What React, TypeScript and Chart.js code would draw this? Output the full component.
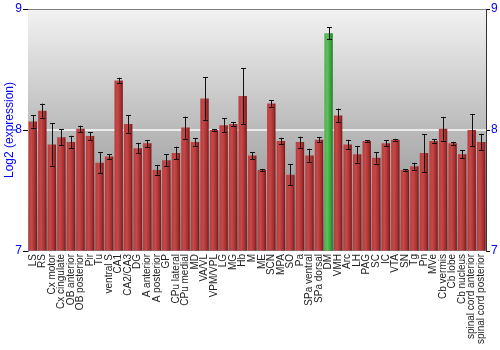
import React, { useEffect, useRef } from "react";
import { Chart, registerables } from "chart.js";

Chart.register(...registerables);

const categories: string[] = [
  "LS", "RS", "Cx motor", "Cx cingulate", "OB anterior", "OB posterior", "Pir", "Tu",
  "ventral S", "CA1", "CA2/CA3", "DG", "A anterior", "A posterior", "GP", "CPu lateral",
  "CPu medial", "MD", "VA/VL", "VPM/VPL", "LG", "MG", "Hb", "M", "ME", "SCN", "MPA", "SO",
  "Pa", "SPa ventral", "SPa dorsal", "DM", "VMH", "Arc", "LH", "PAG", "SC", "IC", "VTA",
  "SN", "Tg", "Pn", "MVe", "Cb vermis", "Cb lobe", "Cb nucleus", "spinal cord anterior",
  "spinal cord posterior",
];

const expression: number[] = [
  8.07, 8.16, 7.88, 7.94, 7.9, 8.01, 7.95, 7.73, 7.78, 8.41, 8.05, 7.85, 7.89, 7.67, 7.75, 7.81,
  8.02, 7.9, 8.26, 8.0, 8.04, 8.05, 8.28, 7.79, 7.67, 8.22, 7.91, 7.63, 7.9, 7.79, 7.92, 8.8,
  8.12, 7.88, 7.8, 7.91, 7.77, 7.89, 7.92, 7.67, 7.7, 7.81, 7.91, 8.01, 7.89, 7.8, 8.0, 7.9,
];

const errors: number[] = [
  0.05, 0.058, 0.174, 0.065, 0.052, 0.026, 0.032, 0.087, 0.019, 0.022, 0.072, 0.044, 0.028, 0.039,
  0.05, 0.052, 0.091, 0.035, 0.175, 0.006, 0.058, 0.017, 0.23, 0.028, 0.008, 0.028, 0.026, 0.088,
  0.046, 0.055, 0.023, 0.051, 0.057, 0.039, 0.069, 0.006, 0.047, 0.025, 0.008, 0.006, 0.03, 0.155,
  0.014, 0.099, 0.012, 0.033, 0.133, 0.069,
];

const highlighted: string[] = ["DM"];
const yTicks: number[] = [7, 8, 9];

const BAR_PCT = 0.88;

const bgPlugin = {
  id: "bgGradient",
  beforeDatasetsDraw(chart: any) {
    const { ctx, chartArea } = chart;
    if (!chartArea) return;
    const g = ctx.createLinearGradient(0, chartArea.top, 0, chartArea.bottom);
    g.addColorStop(0, "#f2f2f2");
    g.addColorStop(1, "#828282");
    ctx.save();
    ctx.fillStyle = g;
    ctx.fillRect(chartArea.left, chartArea.top, chartArea.right - chartArea.left, chartArea.bottom - chartArea.top);
    // white gridline at 8
    const ys = chart.scales.y;
    ctx.strokeStyle = "rgba(255,255,255,0.95)";
    ctx.lineWidth = 1.5;
    ctx.beginPath();
    const y8 = ys.getPixelForValue(8);
    ctx.moveTo(chartArea.left, y8);
    ctx.lineTo(chartArea.right, y8);
    ctx.stroke();
    ctx.restore();
  },
  afterDraw(chart: any) {
    const { ctx, chartArea } = chart;
    ctx.save();
    ctx.strokeStyle = "#808080";
    ctx.lineWidth = 1;
    ctx.beginPath();
    ctx.moveTo(chartArea.left, chartArea.top + 0.5);
    ctx.lineTo(chartArea.right, chartArea.top + 0.5);
    ctx.stroke();
    ctx.restore();
  },
};

const errorPlugin = {
  id: "errorBars",
  afterDatasetsDraw(chart: any) {
    const { ctx } = chart;
    const meta = chart.getDatasetMeta(0);
    const ys = chart.scales.y;
    ctx.save();
    ctx.strokeStyle = "#111";
    ctx.lineWidth = 1;
    meta.data.forEach((bar: any, i: number) => {
      const x = Math.round(bar.x) + 0.5;
      const hi = ys.getPixelForValue(expression[i] + errors[i]);
      const lo = ys.getPixelForValue(expression[i] - errors[i]);
      ctx.beginPath();
      ctx.moveTo(x, hi);
      ctx.lineTo(x, lo);
      ctx.moveTo(x - 2.5, Math.round(hi) + 0.5);
      ctx.lineTo(x + 2.5, Math.round(hi) + 0.5);
      ctx.moveTo(x - 2.5, Math.round(lo) + 0.5);
      ctx.lineTo(x + 2.5, Math.round(lo) + 0.5);
      ctx.stroke();
    });
    ctx.restore();
  },
};

function barColor(context: any) {
  const chart = context.chart;
  const xs = chart.scales?.x;
  const isHi = highlighted.includes(categories[context.dataIndex]);
  if (!xs || context.type !== "data") return isHi ? "#3fa03f" : "#a83030";
  const c = xs.getPixelForValue(context.dataIndex);
  const w = (xs.width / categories.length) * BAR_PCT;
  if (!isFinite(c) || !isFinite(w) || w <= 0) return isHi ? "#3fa03f" : "#a83030";
  const g = chart.ctx.createLinearGradient(c - w / 2, 0, c + w / 2, 0);
  if (isHi) {
    g.addColorStop(0, "#4cb04c");
    g.addColorStop(0.35, "#5cc05c");
    g.addColorStop(0.75, "#38a038");
    g.addColorStop(1, "#1f7a1f");
  } else {
    g.addColorStop(0, "#b83c3c");
    g.addColorStop(0.35, "#c64848");
    g.addColorStop(0.75, "#a53030");
    g.addColorStop(1, "#7a1616");
  }
  return g;
}

export default function App() {
  const ref = useRef<HTMLCanvasElement | null>(null);
  useEffect(() => {
    document.body.style.margin = "0";
    if (!ref.current) return;
    const chart = new Chart(ref.current, {
      type: "bar",
      data: {
        labels: categories,
        datasets: [
          {
            data: expression,
            backgroundColor: barColor,
            borderWidth: 0,
            barPercentage: BAR_PCT,
            categoryPercentage: 1,
            base: 7,
          },
        ],
      },
      options: {
        responsive: false,
        animation: false,
        layout: { padding: { top: 9, left: 0, right: 0, bottom: 0 } },
        plugins: { legend: { display: false }, tooltip: { enabled: false } },
        scales: {
          x: {
            grid: { display: false, drawTicks: false },
            border: { display: false },
            ticks: {
              autoSkip: false,
              minRotation: 90,
              maxRotation: 90,
              padding: 3,
              color: "#222",
              font: { family: "Liberation Sans, Arial, sans-serif", size: 10 },
            },
            afterFit: (s: any) => {
              s.height = 99;
            },
          },
          y: {
            position: "left",
            min: 7,
            max: 9,
            afterBuildTicks: (s: any) => {
              s.ticks = yTicks.map((v) => ({ value: v }));
            },
            grid: { drawOnChartArea: false, tickColor: "#000", tickLength: 5, tickWidth: 1 },
            border: { color: "#808080" },
            ticks: {
              padding: 1,
              color: "#0000ff",
              font: { family: "Liberation Sans, Arial, sans-serif", size: 12 },
            },
            title: {
              display: true,
              text: "Log2 (expression)",
              color: "#0000ff",
              font: { family: "Liberation Sans, Arial, sans-serif", size: 12 },
              padding: { top: 2, bottom: 0 },
            },
            afterFit: (s: any) => {
              s.width = 28;
            },
          },
          y2: {
            position: "right",
            min: 7,
            max: 9,
            afterBuildTicks: (s: any) => {
              s.ticks = yTicks.map((v) => ({ value: v }));
            },
            grid: { drawOnChartArea: false, tickColor: "#000", tickLength: 4, tickWidth: 1 },
            border: { color: "#333" },
            ticks: {
              padding: 1,
              color: "#0000ff",
              font: { family: "Liberation Sans, Arial, sans-serif", size: 12 },
            },
            afterFit: (s: any) => {
              s.width = 14;
            },
          },
        },
      },
      plugins: [bgPlugin, errorPlugin],
    });
    return () => chart.destroy();
  }, []);
  return (
    <div style={{ width: 500, height: 350 }}>
      <canvas ref={ref} width={500} height={350} style={{ display: "block" }} />
    </div>
  );
}
